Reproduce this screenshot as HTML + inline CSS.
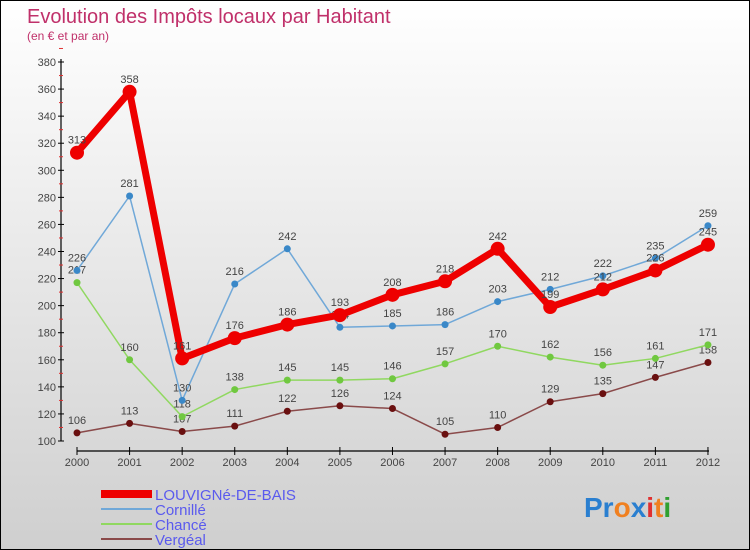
<!DOCTYPE html>
<html><head><meta charset="utf-8"><style>
body{margin:0}
#c{position:relative;width:750px;height:550px;box-sizing:border-box;border:1px solid #000;background:linear-gradient(#fff,#cfcfcf);font-family:"Liberation Sans",sans-serif;overflow:hidden}
</style></head><body>
<div id="c">
<svg id="s" width="750" height="550" style="position:absolute;left:0;top:0">
<text x="26" y="22" font-size="20" fill="#c0306a">Evolution des Impôts locaux par Habitant</text>
<text x="26" y="39" font-size="12" fill="#c0306a">(en € et par an)</text>
<g id="axes"></g><g id="series"></g><g id="legend"></g>
<text x="583" y="516" font-size="28" font-weight="bold"><tspan fill="#2a7fd0">Pr</tspan><tspan fill="#f08020">o</tspan><tspan fill="#2a7fd0">x</tspan><tspan fill="#e03030">i</tspan><tspan fill="#f08020">t</tspan><tspan fill="#30a030">i</tspan></text>
</svg>
</div>
<script>
const years=["2000","2001","2002","2003","2004","2005","2006","2007","2008","2009","2010","2011","2012"];
const yTicks=[100,120,140,160,180,200,220,240,260,280,300,320,340,360,380];
const louvigne=[313,358,161,176,186,193,208,218,242,199,212,226,245];
const cornille=[226,281,130,216,242,184,185,186,203,212,222,235,259];
const chance=[217,160,118,138,145,145,146,157,170,162,156,161,171];
const vergeal=[106,113,107,111,122,126,124,105,110,129,135,147,158];
const NS="http://www.w3.org/2000/svg";
const X=i=>76+i*52.58, Y=v=>440-(v-100)*379/280;
function mk(p,t,a){const e=document.createElementNS(NS,t);for(const k in a)e.setAttribute(k,a[k]);p.appendChild(e);return e;}
const ax=document.getElementById('axes');
let e=mk(ax,'line',{x1:60,y1:58,x2:60,y2:440,stroke:'#000','stroke-width':1.2});

e=mk(ax,'line',{x1:76,y1:450,x2:708,y2:450,stroke:'#000','stroke-width':1.2});

yTicks.forEach(v=>{mk(ax,'line',{x1:57,x2:63,y1:Y(v),y2:Y(v),stroke:'#000'});
 mk(ax,'line',{x1:58,x2:62,y1:Y(v+10),y2:Y(v+10),stroke:'#e03030'});
 const t=mk(ax,'text',{x:55,y:Y(v)+4,'text-anchor':'end','font-size':11,fill:'#444'});t.textContent=v;
 });
years.forEach((y,i)=>{mk(ax,'line',{x1:X(i),x2:X(i),y1:446,y2:454,stroke:'#000'});
 const t=mk(ax,'text',{x:X(i),y:465,'text-anchor':'middle','font-size':11,fill:'#444'});t.textContent=y;
 });
const sg=document.getElementById('series');
const defs=[[vergeal,'#8a4a4a','#6a1010',1.5,3.5,'vergeal'],[chance,'#90d860','#70c840',1.5,3.5,'chance'],[cornille,'#70a8d8','#3a88c8',1.5,3.5,'cornille'],[louvigne,'#ee0000','#ee0000',7,7,'louvigne-de-bais']];
defs.forEach(([d,c,mc,w,r,n])=>{
 const g=mk(sg,'g',{});
 const l=mk(g,'polyline',{points:d.map((v,i)=>X(i)+','+Y(v)).join(' '),fill:'none',stroke:c,'stroke-width':w,'stroke-linejoin':'round'});
 
 d.forEach((v,i)=>{const p=mk(g,'circle',{cx:X(i),cy:Y(v),r:r,fill:mc});
  
  const t=mk(g,'text',{x:X(i),y:Y(v)-9,'text-anchor':'middle','font-size':11,fill:'#444'});t.textContent=v;
  });
});
const lg=document.getElementById('legend');
[['LOUVIGNé-DE-BAIS','#ee0000',8],['Cornillé','#70a8d8',2],['Chancé','#90d860',2],['Vergéal','#8a4a4a',2]].forEach(([n,c,w],i)=>{
 const y=493+i*15;
 const g=mk(lg,'g',{});
 mk(g,'line',{x1:100,x2:151,y1:y,y2:y,stroke:c,'stroke-width':w});
 const t=mk(g,'text',{x:154,y:y+6,'font-size':15,fill:'#5a5aee'});t.textContent=n;
});
</script>
</body></html>
